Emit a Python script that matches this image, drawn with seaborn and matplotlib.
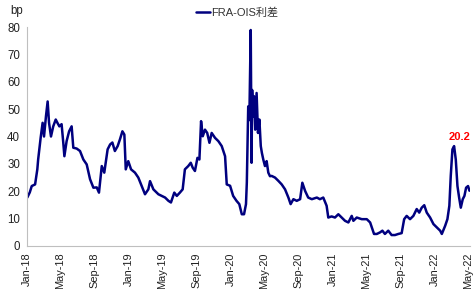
import matplotlib
matplotlib.use("Agg")
import matplotlib.pyplot as plt
import matplotlib.dates as mdates
import pandas as pd
import seaborn as sns

dates = [
    "2018-01-02", "2018-01-11", "2018-01-18", "2018-01-30", "2018-02-07", "2018-02-10",
    "2018-02-19", "2018-02-26", "2018-03-03", "2018-03-10", "2018-03-16", "2018-03-21",
    "2018-03-28", "2018-04-05", "2018-04-14", "2018-04-20", "2018-04-27", "2018-05-05",
    "2018-05-11", "2018-05-15", "2018-05-23", "2018-06-01", "2018-06-10", "2018-06-16",
    "2018-06-28", "2018-07-10", "2018-07-22", "2018-08-03", "2018-08-15", "2018-08-27",
    "2018-09-08", "2018-09-16", "2018-09-26", "2018-10-05", "2018-10-17", "2018-10-26",
    "2018-11-03", "2018-11-12", "2018-11-22", "2018-11-30", "2018-12-09", "2018-12-16",
    "2018-12-21", "2018-12-30", "2019-01-09", "2019-01-23", "2019-02-04", "2019-02-16",
    "2019-02-28", "2019-03-12", "2019-03-18", "2019-03-30", "2019-04-17", "2019-04-29",
    "2019-05-11", "2019-05-23", "2019-06-01", "2019-06-13", "2019-06-22", "2019-07-03",
    "2019-07-13", "2019-07-21", "2019-08-02", "2019-08-11", "2019-08-18", "2019-08-26",
    "2019-09-04", "2019-09-11", "2019-09-17", "2019-09-23", "2019-10-01", "2019-10-09",
    "2019-10-17", "2019-10-25", "2019-11-06", "2019-11-18", "2019-11-30", "2019-12-12",
    "2019-12-18", "2019-12-30", "2020-01-10", "2020-01-22", "2020-02-01", "2020-02-10",
    "2020-02-18", "2020-02-25", "2020-02-28", "2020-03-04", "2020-03-08", "2020-03-13",
    "2020-03-16", "2020-03-18", "2020-03-22", "2020-03-25", "2020-03-29", "2020-04-03",
    "2020-04-08", "2020-04-13", "2020-04-18", "2020-04-22", "2020-04-27", "2020-05-03",
    "2020-05-09", "2020-05-15", "2020-05-21", "2020-05-27", "2020-06-08", "2020-06-20",
    "2020-07-02", "2020-07-14", "2020-07-26", "2020-08-03", "2020-08-13", "2020-08-25",
    "2020-09-06", "2020-09-14", "2020-09-24", "2020-10-05", "2020-10-18", "2020-11-05",
    "2020-11-16", "2020-11-28", "2020-12-10", "2020-12-16", "2020-12-28", "2021-01-09",
    "2021-01-21", "2021-02-02", "2021-02-14", "2021-02-26", "2021-03-10", "2021-03-16",
    "2021-03-28", "2021-04-15", "2021-05-03", "2021-05-15", "2021-05-21", "2021-05-29",
    "2021-06-08", "2021-06-20", "2021-06-28", "2021-07-07", "2021-07-19", "2021-07-31",
    "2021-08-12", "2021-08-24", "2021-09-05", "2021-09-14", "2021-09-23", "2021-10-05",
    "2021-10-17", "2021-10-29", "2021-11-07", "2021-11-16", "2021-11-25", "2021-12-04",
    "2021-12-16", "2021-12-28", "2022-01-09", "2022-01-21", "2022-01-27", "2022-02-08",
    "2022-02-16", "2022-02-23", "2022-02-28", "2022-03-06", "2022-03-12", "2022-03-18",
    "2022-03-24", "2022-03-30", "2022-04-05", "2022-04-12", "2022-04-18", "2022-04-24",
    "2022-05-01", "2022-05-06",
]
spread_bp = [
    17.7, 19.6, 21.9, 22.5, 28.0, 31.6,
    39.6, 45.0, 40.0, 47.4, 52.8, 45.0,
    40.0, 43.7, 46.2, 45.0, 43.7, 44.5,
    37.8, 32.8, 38.3, 41.9, 43.7, 35.9,
    35.6, 34.7, 31.6, 29.8, 24.4, 21.3,
    21.4, 19.5, 29.2, 26.8, 35.3, 37.1,
    37.8, 34.7, 36.5, 38.9, 41.9, 40.7,
    28.0, 31.0, 28.0, 26.8, 25.0, 21.9,
    18.9, 20.7, 23.7, 20.7, 18.9, 18.3,
    17.7, 16.5, 15.9, 19.5, 18.3, 19.5,
    20.7, 28.0, 29.2, 30.4, 28.6, 27.4,
    32.2, 31.6, 45.6, 40.1, 42.5, 41.3,
    37.7, 41.3, 39.5, 38.3, 36.5, 32.8,
    22.5, 22.0, 18.3, 16.5, 15.3, 11.6,
    11.6, 15.3, 23.2, 51.0, 46.0, 78.9,
    30.4, 57.0, 47.4, 54.7, 42.5, 55.9,
    41.3, 46.2, 36.5, 34.0, 31.6, 29.2,
    31.0, 26.8, 25.5, 25.6, 25.0, 23.8,
    22.5, 20.7, 17.7, 15.3, 17.1, 16.5,
    17.1, 23.1, 20.1, 17.7, 17.1, 17.7,
    17.1, 17.7, 14.7, 10.4, 10.8, 10.4,
    11.6, 10.4, 9.2, 8.6, 11.0, 9.2,
    10.4, 9.8, 9.8, 8.6, 6.8, 4.4,
    4.4, 5.0, 5.6, 4.4, 5.6, 4.0,
    4.0, 4.4, 4.7, 9.8, 11.0, 9.8,
    11.0, 13.5, 12.2, 14.0, 14.9, 12.2,
    10.4, 8.0, 6.8, 5.6, 4.4, 7.4,
    9.8, 14.7, 25.6, 35.3, 36.5, 31.6,
    21.9, 17.7, 14.0, 17.1, 18.3, 21.3,
    21.9, 20.2,
]
series_name = "FRA-OIS利差"
last_label = "20.2"
y_ticks = [0, 10, 20, 30, 40, 50, 60, 70, 80]

df = pd.DataFrame({"date": pd.to_datetime(dates), "value": spread_bp})

sns.set_style("white")
plt.rcParams["font.family"] = ["Liberation Sans", "Noto Sans CJK SC", "DejaVu Sans"]

fig = plt.figure(figsize=(4.74, 2.89), dpi=100)
ax = fig.add_axes([27 / 474, 1 - 246 / 289, (470 - 27) / 474, (246 - 27) / 289])

sns.lineplot(data=df, x="date", y="value", ax=ax, color="#00007F",
             linewidth=1.8, label=series_name)

ax.set_xlim(pd.Timestamp("2018-01-01"), pd.Timestamp("2022-05-08"))
ax.set_ylim(0, 80)
ax.set_yticks(y_ticks)
ax.xaxis.set_major_locator(mdates.MonthLocator(bymonth=[1, 5, 9]))
ax.xaxis.set_major_formatter(mdates.DateFormatter("%b-%y"))
ax.set_xlabel("")
ax.set_ylabel("")

for s in ["top", "right"]:
    ax.spines[s].set_visible(False)
for s in ["left", "bottom"]:
    ax.spines[s].set_color("#BFBFBF")
    ax.spines[s].set_linewidth(0.8)

ax.tick_params(axis="x", which="major", direction="out", length=3, width=0.8,
               color="#BFBFBF", labelsize=7.9, labelcolor="#222222",
               rotation=90, pad=1.5)
ax.tick_params(axis="y", which="major", direction="out", length=3, width=0.8,
               color="#BFBFBF", labelsize=8.3, labelcolor="#222222", pad=2)

leg = ax.legend(loc="upper center", bbox_to_anchor=(237 / 474, 1 - 3 / 289),
                bbox_transform=fig.transFigure, frameon=False, fontsize=8,
                handlelength=1.3, handletextpad=0.1, borderaxespad=0)
for t in leg.get_texts():
    t.set_color("#333333")

fig.text(10 / 474, 1 - 11 / 289, "bp", fontsize=8.3, color="#222222",
         ha="left", va="center")

ax.annotate(last_label, xy=(pd.Timestamp("2022-04-02"), 40), ha="center",
            va="center", fontsize=8, fontweight="bold", color="#FF0000")

fig.savefig("out.png", dpi=100)
